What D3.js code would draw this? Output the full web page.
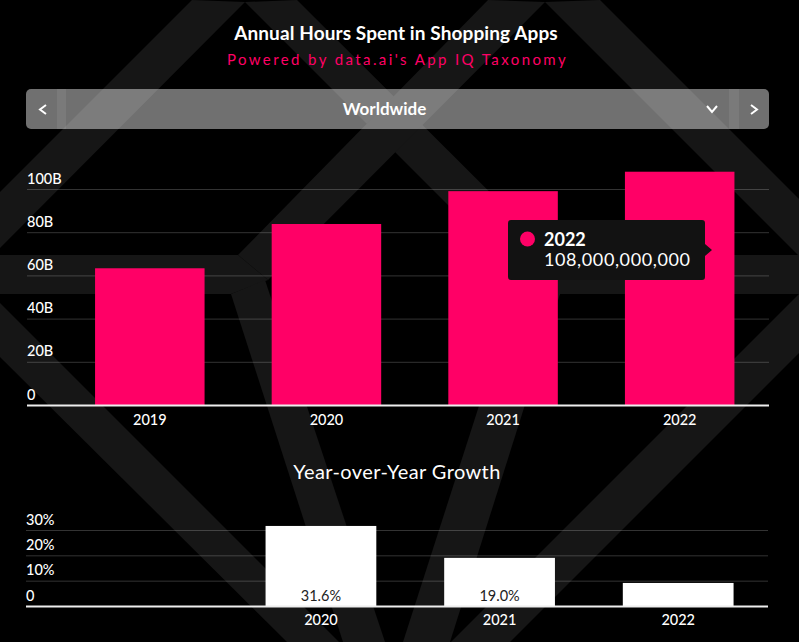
<!DOCTYPE html>
<html>
<head>
<meta charset="utf-8">
<script src="https://cdn.jsdelivr.net/npm/d3@7"></script>
<style>
  html, body { margin: 0; padding: 0; background: #000; }
  svg { display: block; font-family: Lato, sans-serif; }
  .tick text { fill: #fff; font-family: Lato, sans-serif; font-size: 14.5px; font-weight: 500; }
</style>
</head>
<body>
<div id="chart"></div>
<script>
// Chart data
const years = ["2019", "2020", "2021", "2022"];
const hours = [63.3e9, 83.8e9, 99e9, 108e9];
const hourTicks = [0, 20e9, 40e9, 60e9, 80e9, 100e9];
const growth = [null, 31.6, 19.0, 9.1];
const growthLabels = [null, "31.6%", "19.0%", null];
const growthTicks = [0, 10, 20, 30];

const width = 799;
const height = 642;
const pink = "#ff0066";

const svg = d3.select("#chart")
    .append("svg")
    .attr("width", width)
    .attr("height", height);

svg.append("rect")
    .attr("width", width)
    .attr("height", height)
    .attr("fill", "#000");

// Faint logo shapes behind everything
const backdrop = [
    [[192, 0], [245, 2], [297, 0], [553, 255], [560, 295], [538, 295], [245, 2], [0, 248], [0, 192]],
    [[488, 0], [545, 2], [600, 0], [799, 199], [799, 256], [545, 2], [268, 280], [238, 255]],
    [[0, 255], [238, 255], [268, 280], [231, 294], [0, 294]],
    [[538, 255], [799, 255], [799, 294], [538, 294]],
    [[231, 294], [265, 280], [385, 642], [343, 642]],
    [[515, 294], [560, 294], [450, 642], [403, 642]],
    [[0, 303], [339, 642], [287, 642], [0, 357]],
    [[799, 294], [799, 353], [510, 642], [451, 642]]
];
svg.append("g")
    .selectAll("path")
    .data(backdrop)
    .enter()
    .append("path")
    .attr("d", d => d3.line()(d) + "Z")
    .attr("fill", "#161616");

// Titles
svg.append("text")
    .attr("x", 396)
    .attr("y", 40)
    .attr("text-anchor", "middle")
    .attr("fill", "#fff")
    .attr("font-size", 19)
    .attr("font-weight", 700)
    .attr("letter-spacing", 0.1)
    .text("Annual Hours Spent in Shopping Apps");

svg.append("text")
    .attr("x", 397.5)
    .attr("y", 65)
    .attr("text-anchor", "middle")
    .attr("fill", pink)
    .attr("font-size", 15)
    .attr("letter-spacing", 2.4)
    .text("Powered by data.ai's App IQ Taxonomy");

// Region selector bar
const bar = svg.append("g");
bar.append("rect")
    .attr("x", 26).attr("y", 89)
    .attr("width", 743).attr("height", 40)
    .attr("rx", 5)
    .attr("fill", "#fff").attr("fill-opacity", 0.44);
bar.append("rect").attr("x", 57).attr("y", 89).attr("width", 9).attr("height", 40)
    .attr("fill", "#fff").attr("fill-opacity", 0.07);
bar.append("rect").attr("x", 729).attr("y", 89).attr("width", 10).attr("height", 40)
    .attr("fill", "#fff").attr("fill-opacity", 0.07);
bar.append("text")
    .attr("x", 384.5).attr("y", 115)
    .attr("text-anchor", "middle")
    .attr("fill", "#fff")
    .attr("font-size", 17)
    .attr("font-weight", 700)
    .text("Worldwide");
[
    [[46, 105], [40, 109.5], [46, 114]],
    [[707, 106], [712, 112], [717, 106]],
    [[751, 105], [757, 109.5], [751, 114]]
].forEach(pts => {
    bar.append("path")
        .attr("d", d3.line()(pts))
        .attr("fill", "none")
        .attr("stroke", "#fff")
        .attr("stroke-width", 2);
});

// Main chart scales
const x = d3.scaleBand()
    .domain(years)
    .range([61.5, 768])
    .paddingInner(0.38)
    .paddingOuter(0.19);

const y = d3.scaleLinear()
    .domain([0, 100e9])
    .range([405, 189]);

// Gridlines and y labels
const yAxis = svg.append("g")
    .attr("transform", "translate(27, 0)")
    .call(d3.axisRight(y)
        .tickValues(hourTicks)
        .tickSize(742)
        .tickFormat(d => d === 0 ? "0" : d / 1e9 + "B"));
yAxis.select(".domain").remove();
yAxis.selectAll("line").attr("stroke", "#fff").attr("stroke-opacity", 0.2);
yAxis.selectAll("text").attr("x", 0).attr("dy", -6).attr("text-anchor", "start");

// Bars
svg.append("g")
    .selectAll("rect")
    .data(hours)
    .enter()
    .append("rect")
    .attr("x", (d, i) => x(years[i]))
    .attr("y", d => y(d))
    .attr("width", x.bandwidth())
    .attr("height", d => y(0) - y(d))
    .attr("fill", pink);

// Baseline
svg.append("line")
    .attr("x1", 27).attr("x2", 769)
    .attr("y1", y(0) + 0.5).attr("y2", y(0) + 0.5)
    .attr("stroke", "#eee").attr("stroke-width", 2);

const xAxis = svg.append("g")
    .attr("transform", "translate(0, 406)")
    .call(d3.axisBottom(x).tickSize(0).tickPadding(8.5));
xAxis.select(".domain").remove();

// Tooltip for the last bar
const lastYear = years[years.length - 1];
const lastValue = hours[hours.length - 1];
const tip = svg.append("g").attr("transform", "translate(508, 220)");
tip.append("path")
    .attr("d", "M3,0H194a3,3 0 0 1 3,3V24L204,30L197,36V57a3,3 0 0 1 -3,3H3a3,3 0 0 1 -3,-3V3a3,3 0 0 1 3,-3Z")
    .attr("fill", "#121212");
tip.append("circle")
    .attr("cx", 19.5).attr("cy", 19)
    .attr("r", 7.5)
    .attr("fill", pink);
tip.append("text")
    .attr("x", 36).attr("y", 26)
    .attr("fill", "#fff")
    .attr("font-size", 18)
    .attr("font-weight", 700)
    .text(lastYear);
tip.append("text")
    .attr("x", 36).attr("y", 46)
    .attr("fill", "#fff")
    .attr("font-size", 18)
    .attr("font-weight", 400)
    .attr("letter-spacing", 0.6)
    .text(d3.format(",")(lastValue));

// Growth chart
svg.append("text")
    .attr("x", 397)
    .attr("y", 479)
    .attr("text-anchor", "middle")
    .attr("fill", "#fff")
    .attr("font-size", 20)
    .attr("font-weight", 400)
    .attr("letter-spacing", 0.4)
    .text("Year-over-Year Growth");

const x2 = d3.scaleBand()
    .domain(years)
    .range([53, 767.5])
    .paddingInner(0.38)
    .paddingOuter(0.19);

const y2 = d3.scaleLinear()
    .domain([0, 30])
    .range([606, 530]);

const y2Axis = svg.append("g")
    .attr("transform", "translate(26, 0)")
    .call(d3.axisRight(y2)
        .tickValues(growthTicks)
        .tickSize(742)
        .tickFormat(d => d === 0 ? "0" : d + "%"));
y2Axis.select(".domain").remove();
y2Axis.selectAll("line").attr("stroke", "#fff").attr("stroke-opacity", 0.2);
y2Axis.selectAll("text").attr("x", 0).attr("dy", -6).attr("text-anchor", "start");

svg.append("g")
    .selectAll("rect")
    .data(growth.slice(1))
    .enter()
    .append("rect")
    .attr("x", (d, i) => x2(years[i + 1]))
    .attr("y", d => y2(d))
    .attr("width", x2.bandwidth())
    .attr("height", d => y2(0) - y2(d))
    .attr("fill", "#fff");

svg.append("g")
    .selectAll("text")
    .data(growthLabels)
    .enter()
    .append("text")
    .attr("x", (d, i) => x2(years[i]) + x2.bandwidth() / 2)
    .attr("y", 601)
    .attr("text-anchor", "middle")
    .attr("fill", "#222")
    .attr("font-size", 14.5)
    .attr("font-weight", 400)
    .text(d => d);

svg.append("line")
    .attr("x1", 26).attr("x2", 768)
    .attr("y1", y2(0) + 0.5).attr("y2", y2(0) + 0.5)
    .attr("stroke", "#eee").attr("stroke-width", 2);

const x2Axis = svg.append("g")
    .attr("transform", "translate(0, 607)")
    .call(d3.axisBottom(x2)
        .tickSize(0)
        .tickPadding(8)
        .tickFormat(d => d === years[0] ? "" : d));
x2Axis.select(".domain").remove();
</script>
</body>
</html>
